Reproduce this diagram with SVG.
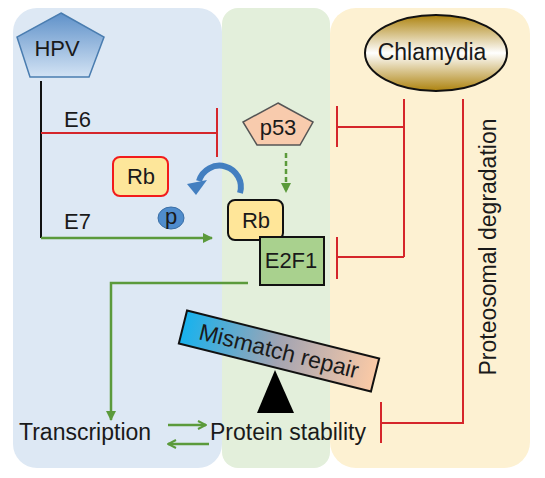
<svg xmlns="http://www.w3.org/2000/svg" width="545" height="478" viewBox="0 0 545 478">
<defs>
<linearGradient id="gHPV" x1="0" y1="0" x2="0" y2="1">
<stop offset="0" stop-color="#5f91c9"/><stop offset="1" stop-color="#d3e3f4"/>
</linearGradient>
<linearGradient id="gChl" x1="0" y1="0" x2="0" y2="1">
<stop offset="0" stop-color="#ad830f"/><stop offset="0.5" stop-color="#ffffff"/><stop offset="1" stop-color="#ad830f"/>
</linearGradient>
<linearGradient id="gMM" x1="0" y1="0" x2="1" y2="0">
<stop offset="0" stop-color="#17b2ee"/><stop offset="0.5" stop-color="#a3a4b2"/><stop offset="1" stop-color="#fbcaa6"/>
</linearGradient>
<marker id="ag" viewBox="0 0 10 10" refX="9" refY="5" markerWidth="4" markerHeight="4" orient="auto" markerUnits="strokeWidth">
<path d="M0,0 L10,5 L0,10 z" fill="#5b9a3b"/>
</marker>
<marker id="ao" viewBox="0 0 10 10" refX="9" refY="5" markerWidth="4" markerHeight="4" orient="auto" markerUnits="strokeWidth">
<path d="M1,1 L9,5 L1,9" fill="none" stroke="#5b9a3b" stroke-width="2"/>
</marker>
</defs>
<style>
text{font-family:"Liberation Sans",Arial,sans-serif;fill:#1a1a1a;font-size:22px}
.c{text-anchor:middle}
.big{font-size:23px}
.red{stroke:#d5262b;stroke-width:2;fill:none}
.grn{stroke:#5b9a3b;stroke-width:2.5;fill:none}
.box{stroke:#111;stroke-width:2}
</style>
<g id="panels">
<rect x="13" y="8" width="209" height="460" rx="24" fill="#dde8f4"/>
<rect x="222" y="8" width="108" height="460" rx="16" fill="#e3efdb"/>
<rect x="330" y="8" width="200" height="460" rx="26" fill="#fdf1d2"/>
</g>
<g id="connectors">
<path d="M41,81 V238" stroke="#111" stroke-width="2" fill="none"/>
<path class="red" d="M41,133 H217 M217,108 V157"/>
<path class="grn" d="M41,238 H212" stroke-width="2" marker-end="url(#ag)"/>
<path class="grn" d="M286,153 V192" stroke-width="2" stroke-dasharray="5,3" marker-end="url(#ag)"/>
<path class="grn" d="M248,283 H111 V420" marker-end="url(#ag)"/>
<path class="grn" d="M168,425 H206" marker-end="url(#ao)"/>
<path class="grn" d="M209,444 H168" marker-end="url(#ao)"/>
<path class="red" d="M404,99 V257 M404,127 H337 M337,106 V147 M404,257 H337 M337,237 V279"/>
<path class="red" d="M463,99 V423 H381 M381,402 V443"/>
<path d="M240,193 A21,21 0 0 0 199,181" stroke="#437fc0" stroke-width="6" fill="none"/>
<polygon points="187,184 207,180 196,195" fill="#437fc0"/>
</g>
<g id="hpv">
<polygon points="61,13 104,37 89,77 30,77 17,37" fill="url(#gHPV)" stroke="#4a7db0" stroke-width="1.5"/>
<text class="c" x="57" y="56" font-size="24">HPV</text>
</g>
<g id="e6"><text x="64" y="127">E6</text></g>
<g id="e7"><text x="64" y="229">E7</text></g>
<g id="rb-free">
<rect x="113" y="157" width="55" height="39" rx="7" fill="#fde69a" stroke="#f21b1b" stroke-width="2"/>
<text class="c" x="141" y="184">Rb</text>
</g>
<g id="p">
<ellipse cx="171" cy="218" rx="13" ry="11" fill="#4f8ccc" stroke="#3a6ea5" stroke-width="1"/>
<text class="c" x="171" y="224" font-size="17">p</text>
</g>
<g id="p53">
<polygon points="278,103 313,122 300,145 257,145 243,122" fill="#f8cbad" stroke="#555" stroke-width="1.5"/>
<text class="c" x="278" y="135">p53</text>
</g>
<g id="rb">
<rect class="box" x="228" y="200" width="55" height="40" rx="7" fill="#ffe699"/>
<text class="c" x="256" y="228">Rb</text>
</g>
<g id="e2f1">
<rect class="box" x="260" y="237" width="64" height="48" fill="#a9d18e"/>
<text class="c" x="291" y="268">E2F1</text>
</g>
<g id="chlamydia">
<ellipse cx="436" cy="53" rx="71" ry="38" fill="url(#gChl)" stroke="#111" stroke-width="2"/>
<text class="c big" x="432" y="60">Chlamydia</text>
</g>
<g id="mismatch" transform="translate(279,351) rotate(14)">
<rect class="box" x="-99" y="-17" width="198" height="34" fill="url(#gMM)"/>
<text class="c big" x="0" y="8">Mismatch repair</text>
</g>
<g id="fulcrum"><polygon points="275,370 257,413 294,413" fill="#000"/></g>
<g id="transcription"><text class="big" x="19" y="440">Transcription</text></g>
<g id="protein-stability"><text class="big" x="210" y="440">Protein stability</text></g>
<g id="proteosomal"><text class="c big" transform="translate(496,247) rotate(-90)">Proteosomal degradation</text></g>
</svg>
